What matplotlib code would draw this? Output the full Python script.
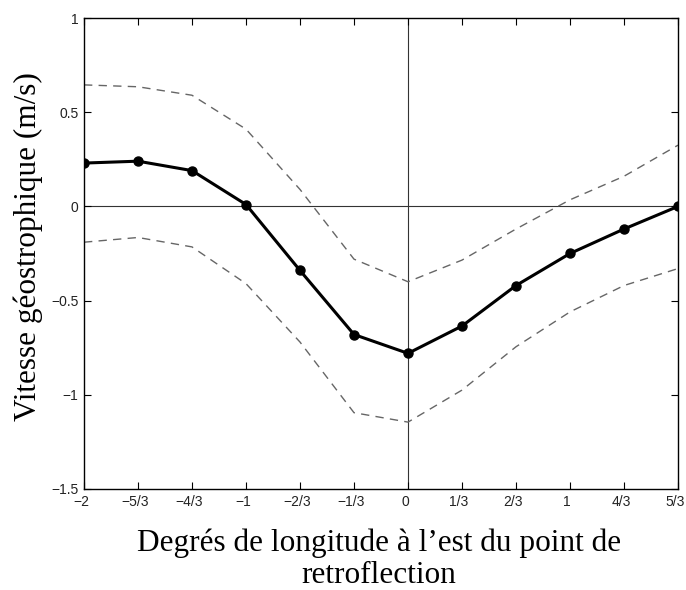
import matplotlib.pyplot as plt
import matplotlib.transforms as mtransforms
import numpy as np

# longitude offsets in thirds of a degree
x_thirds = np.arange(-6, 6)
x = x_thirds / 3.0
tick_labels = ["\u22122", "\u22125/3", "\u22124/3", "\u22121", "\u22122/3", "\u22121/3",
               "0", "1/3", "2/3", "1", "4/3", "5/3"]

vitesse = [0.23, 0.24, 0.19, 0.01, -0.34, -0.68, -0.78, -0.635, -0.42, -0.25, -0.12, 0.0]
borne_haute = [0.645, 0.635, 0.59, 0.41, 0.09, -0.28, -0.40, -0.285, -0.12, 0.035, 0.16, 0.325]
borne_basse = [-0.19, -0.165, -0.215, -0.41, -0.72, -1.095, -1.145, -0.975, -0.745, -0.56, -0.42, -0.33]

fig = plt.figure(figsize=(6.86, 5.9), dpi=100)
ax = fig.add_axes([84 / 686, 1 - 489 / 590, 594 / 686, 471 / 590])

ax.axhline(0, color="#333333", lw=0.8, zorder=1)
ax.axvline(0, color="#333333", lw=0.8, zorder=1)

ax.plot(x, borne_haute, color="#666666", lw=1.0, dashes=(6, 4.5))
ax.plot(x, borne_basse, color="#666666", lw=1.0, dashes=(6, 4.5))
ax.plot(x, vitesse, color="black", lw=2.2, marker="o", markersize=6.5, zorder=3)

ax.set_xlim(-2, 5 / 3)
ax.set_ylim(-1.5, 1)
ax.set_xticks(x)
ax.set_xticklabels(tick_labels)
ax.set_yticks([-1.5, -1, -0.5, 0, 0.5, 1])
ax.set_yticklabels(["\u22121.5", "\u22121", "\u22120.5", "0", "0.5", "1"])
ax.tick_params(direction="in", top=True, right=True, length=5, width=0.8,
               labelsize=10, labelcolor="#222222", pad=4)
for lbl in ax.get_xticklabels() + ax.get_yticklabels():
    lbl.set_family("Liberation Sans")

# nudge x tick labels a little to the left so the last one stays inside
shift = mtransforms.ScaledTranslation(-3 / 100, 0, fig.dpi_scale_trans)
for lbl in ax.get_xticklabels():
    lbl.set_transform(lbl.get_transform() + shift)

for s in ax.spines.values():
    s.set_linewidth(1.0)

serif = {"family": "Liberation Serif", "size": 22.5}
fig.text(28 / 686, 1 - 247 / 590, "Vitesse géostrophique (m/s)",
         rotation=90, ha="center", va="center", **serif)
fig.text(379 / 686, 1 - 551 / 590, "Degrés de longitude à l\u2019est du point de",
         ha="center", va="baseline", **serif)
fig.text(379 / 686, 1 - 583 / 590, "retroflection", ha="center", va="baseline", **serif)

fig.savefig("out.png", dpi=100)
